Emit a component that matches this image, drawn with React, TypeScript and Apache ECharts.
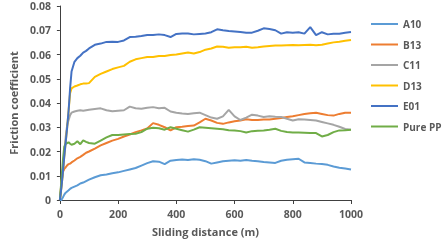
import React, { useEffect, useRef } from "react";
import * as echarts from "echarts";

const distances = [0,5,10,15,20,25,30,35,40,50,60,70,80,90,100,120,140,160,180,200,220,240,260,280,300,320,340,360,380,400,420,440,460,480,500,520,540,560,580,600,620,640,660,680,700,720,740,760,780,800,820,840,860,880,900,920,940,960,980,1000];

const seriesNames = ["A10", "B13", "C11", "D13", "E01", "Pure PP"];
const seriesColors = ["#5B9BD5", "#ED7D31", "#A5A5A5", "#FFC000", "#4472C4", "#70AD47"];

const a10 = [0,0,0.001,0.0022,0.003,0.0035,0.004,0.0046,0.005,0.0055,0.006,0.0068,0.0072,0.0078,0.0084,0.0094,0.0102,0.0105,0.011,0.0114,0.012,0.0126,0.0132,0.0142,0.0152,0.016,0.0158,0.0148,0.0162,0.0165,0.0167,0.0165,0.0168,0.0166,0.016,0.015,0.0155,0.016,0.0162,0.0164,0.0162,0.0165,0.0162,0.016,0.0157,0.0155,0.0153,0.0162,0.0166,0.0168,0.017,0.0155,0.0153,0.015,0.0148,0.0145,0.0138,0.0133,0.013,0.0126];
const b13 = [0,0.007,0.0115,0.0128,0.0135,0.0143,0.0148,0.015,0.0155,0.0163,0.0172,0.0178,0.0186,0.0195,0.02,0.0212,0.0225,0.0235,0.0245,0.0252,0.0262,0.027,0.028,0.0287,0.0295,0.0317,0.031,0.03,0.0287,0.03,0.0302,0.0305,0.0307,0.032,0.0335,0.0328,0.0318,0.0314,0.032,0.0325,0.0328,0.0333,0.033,0.033,0.0332,0.0332,0.0335,0.0338,0.0342,0.0345,0.035,0.0355,0.0358,0.036,0.0355,0.035,0.0348,0.0355,0.036,0.036];
const c11 = [0,0.006,0.012,0.019,0.026,0.031,0.033,0.035,0.036,0.0365,0.0368,0.037,0.0368,0.037,0.0372,0.0375,0.0378,0.037,0.0366,0.0368,0.037,0.0385,0.0378,0.0376,0.038,0.0383,0.0378,0.038,0.0365,0.036,0.0357,0.0355,0.0358,0.036,0.035,0.034,0.0335,0.0345,0.0372,0.0345,0.033,0.034,0.0352,0.0348,0.0342,0.0345,0.0343,0.0342,0.0335,0.0328,0.0333,0.0332,0.033,0.0328,0.0322,0.0316,0.031,0.0302,0.0293,0.029];
const d13 = [0,0.005,0.011,0.018,0.024,0.03,0.037,0.044,0.046,0.0468,0.0472,0.0477,0.048,0.048,0.0482,0.0508,0.052,0.053,0.054,0.0547,0.0553,0.057,0.058,0.0585,0.059,0.059,0.0594,0.0594,0.0598,0.06,0.0604,0.0608,0.0604,0.061,0.062,0.0625,0.0633,0.0632,0.0628,0.063,0.063,0.0632,0.0628,0.063,0.0633,0.0635,0.0637,0.0637,0.0638,0.0639,0.0638,0.0639,0.064,0.0638,0.064,0.0645,0.065,0.0653,0.0657,0.066];
const e01 = [0,0.005,0.011,0.018,0.024,0.03,0.037,0.046,0.053,0.057,0.0585,0.0595,0.0608,0.0615,0.0625,0.064,0.0645,0.0652,0.0653,0.0652,0.0658,0.0672,0.0673,0.0676,0.068,0.068,0.0683,0.068,0.0672,0.0685,0.0687,0.0687,0.0683,0.0685,0.0687,0.0692,0.0704,0.07,0.0697,0.0695,0.0693,0.069,0.069,0.0698,0.0708,0.0705,0.07,0.0686,0.0692,0.069,0.0692,0.0686,0.0713,0.068,0.0692,0.0683,0.0686,0.0686,0.069,0.0693];
const purePP = [0,0.008,0.016,0.022,0.0232,0.0235,0.0238,0.0232,0.0228,0.0232,0.0242,0.023,0.0246,0.024,0.0235,0.0232,0.0245,0.0258,0.0268,0.0268,0.027,0.0272,0.0273,0.028,0.0294,0.0298,0.0296,0.029,0.03,0.0294,0.0288,0.0282,0.029,0.03,0.0298,0.0296,0.0294,0.0292,0.0288,0.0287,0.0284,0.0278,0.0284,0.0286,0.0287,0.029,0.0294,0.0285,0.028,0.0278,0.0278,0.0277,0.0276,0.0276,0.0262,0.0268,0.028,0.0287,0.0288,0.029];

const allValues = [a10, b13, c11, d13, e01, purePP];

const FONT = "'Open Sans', sans-serif";
const TEXT_COLOR = "#595959";

export default function App() {
  const ref = useRef<HTMLDivElement>(null);
  useEffect(() => {
    if (!ref.current) return;
    const chart = echarts.init(ref.current, null, { renderer: "svg" });
    chart.setOption({
      animation: false,
      textStyle: { fontFamily: FONT },
      grid: { left: 58, right: 92, top: 6, bottom: 44 },
      legend: {
        orient: "vertical",
        left: 366,
        top: 14,
        itemWidth: 27,
        itemHeight: 2,
        itemGap: 10.5,
        itemTextGap: 3,
        icon: "rect",
        textStyle: { fontFamily: FONT, fontSize: 10, fontWeight: "bold", color: TEXT_COLOR },
        data: seriesNames,
      },
      xAxis: {
        type: "value",
        min: 0,
        max: 1000,
        interval: 200,
        name: "Sliding distance (m)",
        nameLocation: "middle",
        nameGap: 26,
        nameTextStyle: { fontFamily: FONT, fontSize: 11, fontWeight: "bold", color: TEXT_COLOR },
        axisLine: { lineStyle: { color: "#404040", width: 1 } },
        axisTick: { show: true, length: 4, lineStyle: { color: "#404040" } },
        axisLabel: {
          fontFamily: FONT,
          fontSize: 10.5,
          fontWeight: "bold",
          color: TEXT_COLOR,
          margin: 8,
          formatter: (v: number) => String(v),
        },
        splitLine: { show: false },
      },
      yAxis: {
        type: "value",
        min: 0,
        max: 0.08,
        interval: 0.01,
        name: "Friction coefficient",
        nameLocation: "middle",
        nameGap: 40,
        nameTextStyle: { fontFamily: FONT, fontSize: 11, fontWeight: "bold", color: TEXT_COLOR },
        axisLine: { show: true, lineStyle: { color: "#404040", width: 1 } },
        axisTick: { show: true, length: 3, lineStyle: { color: "#404040" } },
        axisLabel: {
          fontFamily: FONT,
          fontSize: 10.5,
          fontWeight: "bold",
          color: TEXT_COLOR,
          margin: 9,
          formatter: (v: number) => (v === 0 ? "0" : v.toFixed(2)),
        },
        splitLine: { show: false },
      },
      series: seriesNames.map((name, i) => ({
        name,
        type: "line",
        data: distances.map((d, j) => [d, allValues[i][j]]),
        showSymbol: false,
        symbol: "none",
        lineStyle: { color: seriesColors[i], width: 2 },
        itemStyle: { color: seriesColors[i] },
        z: i === 4 ? 3 : 2,
      })),
    });
    return () => chart.dispose();
  }, []);
  return <div ref={ref} style={{ position: "fixed", left: 0, top: 0, width: 443, height: 244 }} />;
}
